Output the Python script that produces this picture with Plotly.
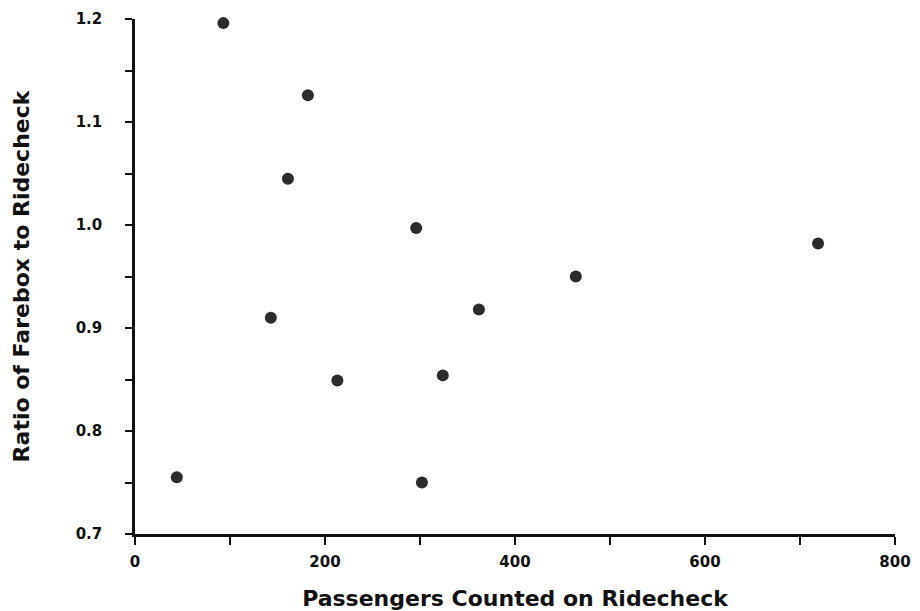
import plotly.graph_objects as go

passengers = [44, 93, 182, 161, 296, 143, 213, 302, 324, 362, 464, 719]
ratio = [0.755, 1.196, 1.126, 1.045, 0.997, 0.910, 0.849, 0.750, 0.854, 0.918, 0.950, 0.982]

x_ticks = [0, 200, 400, 600, 800]
y_ticks = [0.7, 0.8, 0.9, 1.0, 1.1, 1.2]

FONT = "DejaVu Sans"
INK = "#111111"

fig = go.Figure()
fig.add_trace(go.Scatter(
    x=passengers, y=ratio, mode="markers",
    marker=dict(size=12, color="#2b2b2b", line=dict(width=0)),
    showlegend=False,
    cliponaxis=False,
))

fig.update_layout(
    width=912, height=603,
    margin=dict(l=127, r=25, t=11, b=77),
    paper_bgcolor="white", plot_bgcolor="white",
    font=dict(family=FONT, color=INK),
)

fig.update_xaxes(
    range=[0, 800], tickvals=x_ticks, ticktext=[str(v) for v in x_ticks],
    showline=True, linecolor=INK, linewidth=2.5,
    ticks="outside", ticklen=8, tickwidth=2, tickcolor=INK,
    minor=dict(ticks="outside", dtick=100, ticklen=8, tickwidth=2, tickcolor=INK, showgrid=False),
    showgrid=False, zeroline=False, automargin=False,
    tickfont=dict(family=FONT, size=15, weight="bold"),
    ticklabelstandoff=4,
    title=dict(text="Passengers Counted on Ridecheck", font=dict(family=FONT, size=22, weight="bold"), standoff=22),
)
fig.update_yaxes(
    range=[0.7, 1.2], tickvals=y_ticks, ticktext=[f"{v:.1f}" for v in y_ticks],
    showline=True, linecolor=INK, linewidth=2.5,
    ticks="outside", ticklen=7, tickwidth=2, tickcolor=INK,
    minor=dict(ticks="outside", dtick=0.05, ticklen=7, tickwidth=2, tickcolor=INK, showgrid=False),
    showgrid=False, zeroline=False, automargin=False,
    tickfont=dict(family=FONT, size=15, weight="bold"),
    ticklabelstandoff=20,
    title=dict(text="Ratio of Farebox to Ridecheck", font=dict(family=FONT, size=22, weight="bold"), standoff=40),
)

fig.write_html("out.html")
